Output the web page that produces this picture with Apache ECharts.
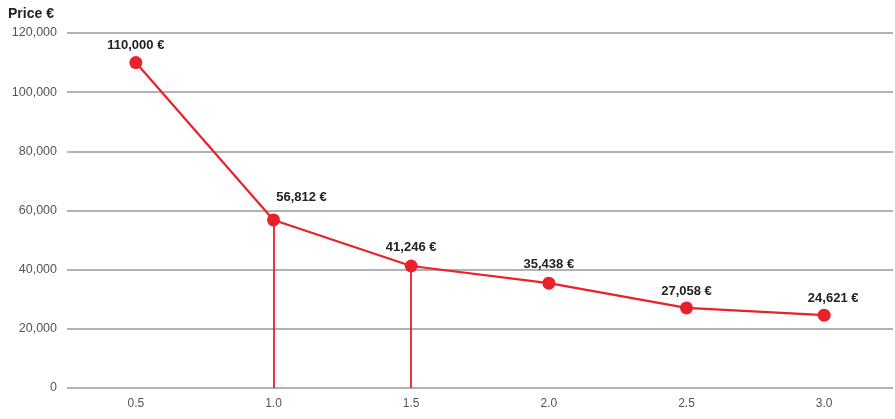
<!DOCTYPE html>
<html>
<head>
<meta charset="utf-8">
<script src="https://cdn.jsdelivr.net/npm/echarts@6/dist/echarts.min.js"></script>
<style>
  html, body { margin: 0; padding: 0; background: #fff; }
  #chart { width: 895px; height: 419px; }
</style>
</head>
<body>
<div id="chart"></div>
<script>
// Price by age (years)
const categories = ['0.5', '1.0', '1.5', '2.0', '2.5', '3.0'];
const prices = [110000, 56812, 41246, 35438, 27058, 24621];
const dropLineCategories = ['1.0', '1.5'];
const yTicks = { min: 0, max: 120000, interval: 20000 };

const fmt = v => v.toLocaleString('en-US');
const FONT = '"Liberation Sans", Arial, sans-serif';
const RED = '#e8212b';

// per-point label nudges (pixels)
const labelOffsets = [[0, 2], [28, -4], [0, 0], [0, 0], [0, 2], [9, 2]];

const chart = echarts.init(document.getElementById('chart'), null, { renderer: 'canvas' });

chart.setOption({
  animation: false,
  textStyle: { fontFamily: FONT },
  title: {
    text: 'Price €',
    left: 3,
    top: 2,
    textStyle: { fontFamily: FONT, fontSize: 14, fontWeight: 'bold', color: '#222' }
  },
  grid: { left: 67, right: 2, top: 33, bottom: 31 },
  xAxis: {
    type: 'category',
    data: categories,
    boundaryGap: true,
    axisLine: { show: false },
    axisTick: { show: false },
    axisLabel: { color: '#555', fontSize: 12, fontFamily: FONT, margin: 10 }
  },
  yAxis: {
    type: 'value',
    min: yTicks.min,
    max: yTicks.max,
    interval: yTicks.interval,
    axisLine: { show: false },
    axisTick: { show: false },
    axisLabel: { color: '#555', fontSize: 12.5, fontFamily: FONT, margin: 10, formatter: fmt },
    splitLine: { lineStyle: { color: '#999', width: 1.5 } }
  },
  series: [{
    type: 'line',
    data: prices.map((v, i) => ({
      value: v,
      label: { offset: labelOffsets[i] }
    })),
    symbol: 'circle',
    symbolSize: 13,
    itemStyle: { color: RED },
    lineStyle: { color: RED, width: 2.2 },
    label: {
      show: true,
      position: 'top',
      distance: 6,
      color: '#222',
      fontSize: 13,
      fontWeight: 'bold',
      fontFamily: FONT,
      formatter: p => fmt(p.value) + ' €'
    },
    markLine: {
      silent: true,
      symbol: 'none',
      label: { show: false },
      lineStyle: { color: RED, width: 1.8, type: 'solid' },
      data: dropLineCategories.map(c => [
        { coord: [c, prices[categories.indexOf(c)]] },
        { coord: [c, 0] }
      ])
    },
    z: 3
  }]
});
</script>
</body>
</html>
